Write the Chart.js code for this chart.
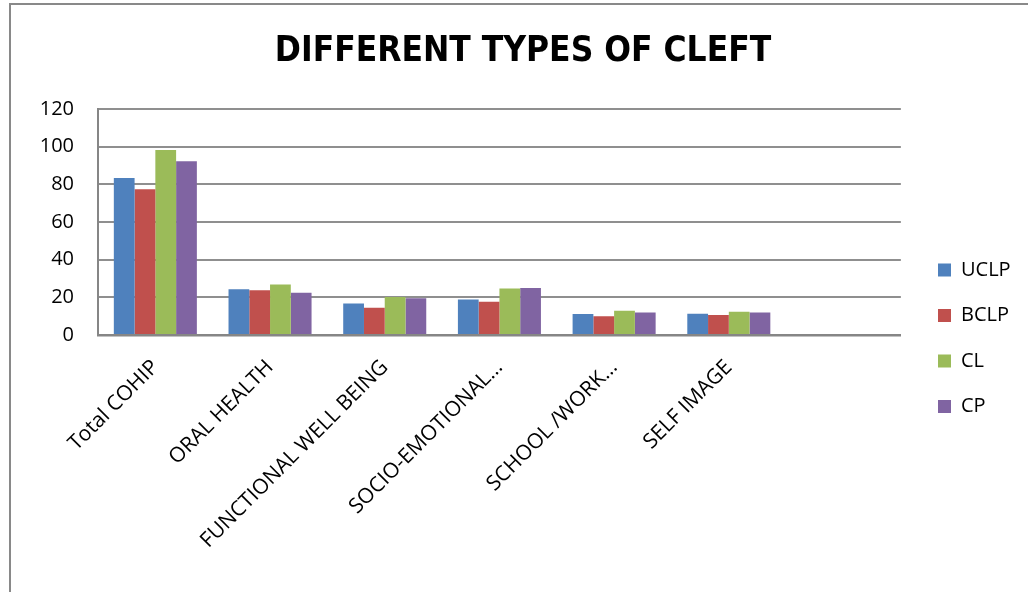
<!DOCTYPE html>
<html>
<head>
<meta charset="utf-8">
<script src="https://cdn.jsdelivr.net/npm/chart.js@4.4.1/dist/chart.umd.min.js"></script>
<style>
  html, body { margin: 0; padding: 0; background: #ffffff; overflow: hidden; }
  #wrap { position: relative; width: 1028px; height: 592px; }
  #frame {
    position: absolute; left: 9px; top: 3px; width: 1100px; height: 700px;
    border-left: 2px solid #898989; border-top: 2px solid #898989;
    pointer-events: none;
  }
  canvas { position: absolute; left: 0; top: 0; }
</style>
</head>
<body>
<div id="wrap">
  <div id="frame"></div>
  <canvas id="chart" width="1028" height="592"></canvas>
</div>
<script>
// COHIP domain scores by cleft type
const categories = ['Total COHIP', 'ORAL HEALTH', 'FUNCTIONAL WELL BEING', 'SOCIO-EMOTIONAL…', 'SCHOOL /WORK…', 'SELF IMAGE', ''];
const seriesNames = ['UCLP', 'BCLP', 'CL', 'CP'];
const uclp = [83.4, 24.3, 16.7, 18.8, 11.2, 11.3, null];
const bclp = [77.4, 23.8, 14.5, 17.7, 9.9, 10.6, null];
const cl   = [98.2, 26.8, 20.2, 24.7, 12.9, 12.4, null];
const cp   = [92.3, 22.4, 19.5, 25.0, 12.0, 12.0, null];
const yTicks = [0, 20, 40, 60, 80, 100, 120];

const seriesValues = [uclp, bclp, cl, cp];
const seriesColors = ['#4F81BD', '#C0504D', '#9BBB59', '#8064A2'];

const FONT = "'Open Sans', 'Liberation Sans', sans-serif";

// Places the legend column and the title at fixed spots
const blockPlacer = {
  id: 'blockPlacer',
  afterLayout(chart) {
    const lg = chart.legend;
    if (lg && lg.columnSizes && lg.columnSizes.length) {
      const pad = lg.options.labels.padding;
      const dx = 938 - (lg.left + pad);
      lg.left += dx; lg.right += dx;
      const startY = (lg.top + pad + lg.bottom - lg.columnSizes[0].height) / 2;
      const dy = 260 - startY;
      lg.top += dy; lg.bottom += dy;
    }
    const tb = chart.titleBlock;
    if (tb) {
      const shift = 523 - (tb.left + tb.right) / 2;
      tb.left += shift; tb.right += shift;
    }
  }
};

new Chart(document.getElementById('chart'), {
  type: 'bar',
  data: {
    labels: categories,
    datasets: seriesNames.map((name, i) => ({
      label: name,
      data: seriesValues[i],
      backgroundColor: seriesColors[i],
      borderWidth: 0,
      categoryPercentage: 0.724,
      barPercentage: 1.0
    }))
  },
  options: {
    responsive: false,
    animation: false,
    layout: { padding: { left: 10, top: 8, right: 19, bottom: 0 } },
    plugins: {
      title: {
        display: true,
        text: 'DIFFERENT TYPES OF CLEFT',
        color: '#000000',
        font: { family: "'Liberation Sans Narrow', 'DejaVu Sans Condensed', sans-serif", size: 35, weight: 'bold', lineHeight: 1.2 },
        padding: { top: 23, bottom: 36 }
      },
      legend: {
        position: 'right',
        labels: {
          color: '#000000',
          font: { family: FONT, size: 20 },
          boxWidth: 13,
          boxHeight: 13,
          padding: 25.5
        }
      },
      tooltip: { enabled: false }
    },
    scales: {
      x: {
        grid: { display: false, drawTicks: false },
        border: { display: true, color: '#868686', width: 2.5 },
        ticks: {
          color: '#000000',
          font: { family: FONT, size: 21 },
          minRotation: 45,
          maxRotation: 45,
          autoSkip: false,
          padding: 20
        },
        afterFit(scale) { scale.height = 257; }
      },
      y: {
        min: 0,
        max: 120,
        afterBuildTicks(scale) { scale.ticks = yTicks.map(v => ({ value: v })); },
        grid: { color: '#8f8f8f', lineWidth: 2, drawTicks: false },
        border: { display: true, color: '#868686', width: 2 },
        ticks: {
          color: '#000000',
          font: { family: FONT, size: 20 },
          padding: 24
        },
        afterFit(scale) { scale.width = 88; }
      }
    }
  },
  plugins: [blockPlacer]
});
</script>
</body>
</html>
